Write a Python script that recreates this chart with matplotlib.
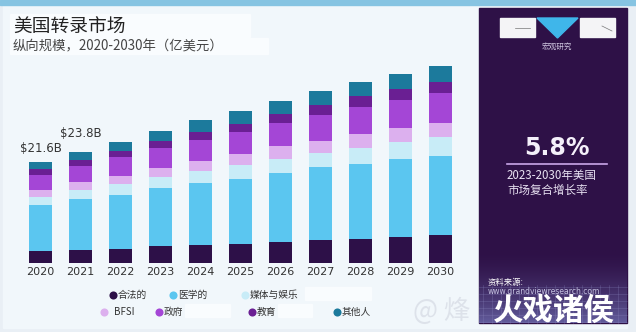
import numpy as np
import matplotlib
matplotlib.use("Agg")
import matplotlib.pyplot as plt
from matplotlib.patches import Rectangle, Polygon
from matplotlib.colors import LinearSegmentedColormap

plt.rcParams['font.family'] = ['Noto Sans CJK SC', 'DejaVu Sans']

# ---- data (US transcription market, 100M USD scale labels in $B) ----
years = ["2020", "2021", "2022", "2023", "2024", "2025", "2026", "2027", "2028", "2029", "2030"]
segments = ["合法的", "医学的", "媒体与娱乐", "BFSI", "政府", "教育", "其他人"]
legal      = [2.5, 2.85, 3.05, 3.55, 3.85, 4.1, 4.5, 4.85, 5.15, 5.55, 5.9]
medical    = [9.85, 10.85, 11.5, 12.5, 13.3, 14.0, 14.8, 15.7, 16.1, 16.7, 17.1]
media      = [1.9, 2.0, 2.45, 2.35, 2.5, 2.8, 3.0, 3.0, 3.5, 3.6, 4.0]
bfsi       = [1.4, 1.65, 1.75, 1.95, 2.25, 2.35, 2.7, 2.7, 2.85, 3.0, 3.0]
government = [3.2, 3.5, 3.9, 4.3, 4.5, 4.75, 5.0, 5.5, 5.8, 6.05, 6.4]
education  = [1.3, 1.3, 1.45, 1.4, 1.75, 1.75, 2.0, 2.15, 2.4, 2.35, 2.35]
other      = [1.45, 1.65, 1.8, 2.25, 2.45, 2.75, 2.7, 3.0, 3.0, 3.25, 3.45]
value_labels = {0: "$21.6B", 1: "$23.8B"}
cagr_text = "5.8%"
cagr_caption = ["2023-2030年美国", "市场复合增长率"]

series = [legal, medical, media, bfsi, government, education, other]
colors = ["#2d1048", "#5bc6f0", "#c8ecf7", "#dcb0ee", "#a446d6", "#6a1f93", "#1c7a9c"]

W, H = 636, 332
fig = plt.figure(figsize=(W / 100, H / 100), dpi=100)

# ---- background layer in pixel coordinates ----
bg = fig.add_axes([0, 0, 1, 1], zorder=0)
bg.set_xlim(0, W)
bg.set_ylim(H, 0)
bg.axis("off")
bg.add_patch(Rectangle((0, 0), W, H, color="#e9eff5"))
bg.add_patch(Rectangle((3, 5), 624, 323, color="#f1f7fb"))
bg.add_patch(Rectangle((0, 0), W, 5, color="#86c4e2"))

# white boxes behind the heading
bg.add_patch(Rectangle((10, 14), 240, 23, color="#f9fcfe"))
bg.add_patch(Rectangle((10, 38), 258, 16, color="#f9fcfe"))
bg.text(13, 27, "美国转录市场", fontsize=13.5, color="#222222", va="center", ha="left")
bg.text(13, 46, "纵向规模，2020-2030年（亿美元）", fontsize=9.6, color="#444444",
        va="center", ha="left")

# dark side panel
bg.add_patch(Rectangle((479, 8), 148, 315, color="#2e1147"))
grad = np.linspace(0, 1, 100).reshape(-1, 1) ** 1.6
cmap = LinearSegmentedColormap.from_list("panel", ["#2e1147", "#625c9c"])
bg.imshow(grad, cmap=cmap, extent=(479, 627, 323, 250), aspect="auto", zorder=1)
for gx in np.arange(483, 627, 9):
    bg.plot([gx, gx], [285, 323], color="#8a86bd", lw=0.4, alpha=0.45, zorder=2)
for gy in np.arange(287, 323, 7):
    bg.plot([479, 627], [gy, gy], color="#8a86bd", lw=0.4, alpha=0.45, zorder=2)

# logo
bg.add_patch(Rectangle((500, 18), 35, 19, color="#f4f4f6", zorder=3))
bg.add_patch(Rectangle((580, 18), 35, 19, color="#f4f4f6", zorder=3))
bg.add_patch(Polygon([[537, 18], [578, 18], [557.5, 38]], closed=True,
                     color="#3fb6ea", zorder=3))
bg.plot([515, 530], [28, 28], color="#777777", lw=0.5, zorder=4)
bg.plot([602, 612], [26, 31], color="#777777", lw=0.5, zorder=4)
bg.text(557, 47, "宏观研究", fontsize=5.5, color="#cfc6e0", ha="center", va="center", zorder=4)

# CAGR callout
bg.text(557, 148, cagr_text, fontsize=17, fontweight="bold", color="#f4f0fa",
        ha="center", va="center", family="DejaVu Sans", zorder=4)
bg.plot([507, 607], [164, 164], color="#c9a6e8", lw=1.2, zorder=4)
bg.text(507, 175, cagr_caption[0], fontsize=8.3, color="#e8e2f2", ha="left", va="center", zorder=4)
bg.text(507, 190, cagr_caption[1], fontsize=8.3, color="#e8e2f2", ha="left", va="center", zorder=4)

# source + watermark
bg.text(488, 282, "资料来源:", fontsize=6, color="#ffffff", ha="left", va="center", zorder=4)
bg.text(488, 292, "www.grandviewresearch.com", fontsize=5.5, color="#c4c1e0",
        ha="left", va="center", zorder=4, family="DejaVu Sans")
bg.text(470, 311, "@ 烽", fontsize=19, color="#dde2ea", ha="right", va="center", zorder=4)
bg.text(554, 311, "火戏诸侯", fontsize=22, fontweight="bold", color="#ffffff",
        ha="center", va="center", zorder=5)

# ---- stacked bars ----
ax = fig.add_axes([20.5 / W, 69 / H, 440 / W, 210 / H], zorder=1)
ax.patch.set_alpha(0)
x = np.arange(len(years))
bottom = np.zeros(len(years))
for vals, col in zip(series, colors):
    ax.bar(x, vals, width=0.575, bottom=bottom, color=col, linewidth=0)
    bottom += np.array(vals)
totals = bottom
label_gap = {0: 3.0, 1: 4.0}
for i, lab in value_labels.items():
    ax.text(x[i], totals[i] + label_gap[i], lab, ha="center", va="center", fontsize=8.5,
            color="#333333", family="DejaVu Sans")
ax.set_xlim(-0.5, len(years) - 0.5)
ax.set_ylim(0, 45)
ax.set_xticks(x)
ax.set_xticklabels(years, fontsize=8, color="#333333", family="DejaVu Sans")
ax.tick_params(axis="x", length=0, pad=3)
ax.set_yticks([])
for s in ax.spines.values():
    s.set_visible(False)

# ---- legend drawn in pixel space ----
legend_pos = [(113, 295), (173, 295), (245, 295), (104, 312), (159, 312), (252, 312), (337, 312)]
for (lx, ly), name, col in zip(legend_pos, segments, colors):
    bg.scatter([lx], [ly], s=34, color=col, zorder=3, linewidths=0)
    bg.text(lx + 5 if name != "BFSI" else lx + 10, ly, name, fontsize=7, color="#333333",
            ha="left", va="center", zorder=3)
# white patches after some legend labels
bg.add_patch(Rectangle((305, 287), 66, 13, color="#f9fcfe", zorder=2))
bg.add_patch(Rectangle((185, 304), 45, 13, color="#f9fcfe", zorder=2))
bg.add_patch(Rectangle((278, 304), 34, 13, color="#f9fcfe", zorder=2))

fig.savefig("out.png", dpi=100)
